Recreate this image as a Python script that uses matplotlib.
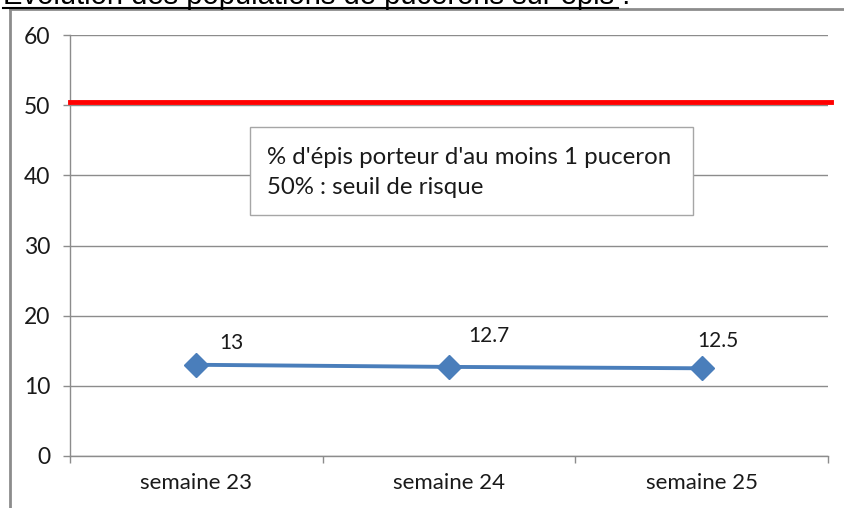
import matplotlib
matplotlib.use("Agg")
import matplotlib.pyplot as plt
from matplotlib.lines import Line2D
from matplotlib.patches import Rectangle

FONT = ["Lato", "DejaVu Sans"]
BLUE = "#4a7ebb"
RED = "#ff0000"
GRID = "#8c8c8c"
FRAME = "#8c8c8c"
TXT = "#1a1a1a"

weeks = ["semaine 23", "semaine 24", "semaine 25"]
pct = [13, 12.7, 12.5]
labels = ["13", "12.7", "12.5"]
label_offsets = [(35, 22), (40, 31), (16, 27)]  # pixels
threshold = 50.5
yticks = [0, 10, 20, 30, 40, 50, 60]

fig = plt.figure(figsize=(8.45, 5.08), dpi=100)
fig.patch.set_facecolor("white")
ax = fig.add_axes([70 / 845, 52 / 508, 758 / 845, 421 / 508])

# outer chart frame (left + top), title is cropped above it
fig.add_artist(Line2D([10 / 845, 10 / 845], [0, 1 - 9 / 508], color=FRAME, lw=2))
fig.add_artist(Line2D([10 / 845, 1], [1 - 9 / 508, 1 - 9 / 508], color=FRAME, lw=2))
fig.text(0.003, 1 - 4 / 508, "Evolution des populations de pucerons sur épis :",
         fontsize=21, family="Liberation Sans", color="black", va="baseline")
fig.add_artist(Line2D([0.003, 618 / 845], [1 - 8 / 508, 1 - 8 / 508], color="black", lw=1.5))

ax.set_xlim(-0.5, 2.5)
ax.set_ylim(0, 60)
ax.set_yticks(yticks)
ax.grid(axis="y", color=GRID, lw=1)
ax.set_axisbelow(True)
for side in ("top", "right"):
    ax.spines[side].set_visible(False)
for side in ("left", "bottom"):
    ax.spines[side].set_color(GRID)
    ax.spines[side].set_linewidth(1)

ax.set_xticks(range(len(weeks)))
ax.set_xticklabels(weeks)
ax.set_xticks([-0.5, 0.5, 1.5, 2.5], minor=True)
ax.tick_params(axis="x", which="major", length=0, pad=12)
ax.tick_params(axis="x", which="minor", length=5, color=GRID, width=1)
ax.tick_params(axis="y", length=5, color=GRID, width=1, pad=9)
for lab in ax.get_xticklabels():
    lab.set_family(FONT)
    lab.set_fontsize(16)
    lab.set_color(TXT)
for lab in ax.get_yticklabels():
    lab.set_family(FONT)
    lab.set_fontsize(16.5)
    lab.set_color(TXT)

# 50% risk threshold
ax.axhline(threshold, xmin=0, xmax=1.004, color=RED, lw=3.5, clip_on=False, zorder=3)

ax.plot(range(len(weeks)), pct, color=BLUE, lw=2.8, marker="D", markersize=12,
        markerfacecolor=BLUE, markeredgecolor=BLUE, zorder=4)
for i, (v, t, off) in enumerate(zip(pct, labels, label_offsets)):
    ax.annotate(t, (i, v), xytext=off, textcoords="offset pixels", ha="center",
                va="center", fontsize=15, family=FONT, color=TXT)

# legend-like note box
fig.add_artist(Rectangle((250 / 845, 1 - 215 / 508), 443 / 845, 88 / 508,
                         transform=fig.transFigure, facecolor="white",
                         edgecolor="#a6a6a6", lw=1, zorder=5))
fig.text(267 / 845, 1 - 157 / 508, "% d'épis porteur d'au moins 1 puceron",
         fontsize=17.3, family=FONT, color=TXT, va="center", zorder=6)
fig.text(267 / 845, 1 - 187 / 508, "50% : seuil de risque",
         fontsize=17.3, family=FONT, color=TXT, va="center", zorder=6)

fig.savefig("out.png", dpi=100)
